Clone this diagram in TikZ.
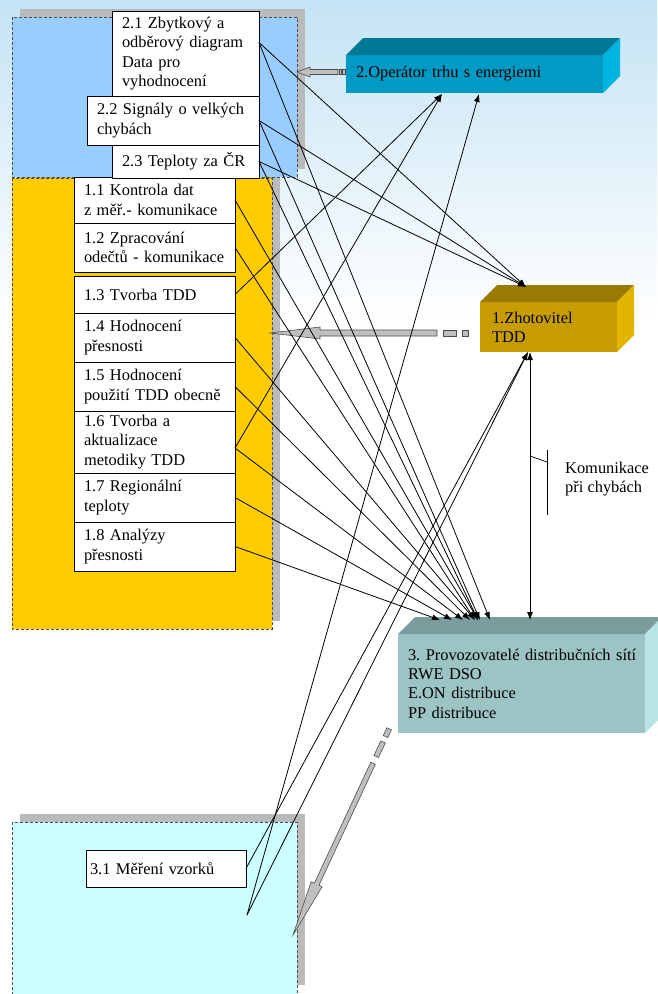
\documentclass[tikz,border=0pt]{standalone}
\usepackage{fontspec}
\setmainfont{Liberation Serif}
\usetikzlibrary{positioning,calc,arrows.meta}

\definecolor{skyblue}{HTML}{C4E3F4}
\definecolor{grpblue}{HTML}{99CCFF}
\definecolor{grpyellow}{HTML}{FFCC00}
\definecolor{grpcyan}{HTML}{CCFFFF}
\definecolor{otefront}{HTML}{009AC4}
\definecolor{otetop}{HTML}{007896}
\definecolor{oteside}{HTML}{00B4E0}
\definecolor{tddfront}{HTML}{C69C00}
\definecolor{tddtop}{HTML}{9A7A00}
\definecolor{tddside}{HTML}{E2B600}
\definecolor{dsofront}{HTML}{9CC4C4}
\definecolor{dsotop}{HTML}{7B9C9C}
\definecolor{dsoside}{HTML}{B8E4E4}

% top and side faces of a box node (depth 17)
\newcommand{\cubefaces}[3]{%
	\fill[#2] (#1.north west) -- ++(17,-17) -- ($(#1.north east)+(17,-17)$) -- (#1.north east) -- cycle;
	\fill[#3] (#1.north east) -- ++(17,-17) -- ($(#1.south east)+(17,-17)$) -- (#1.south east) -- cycle;}
% gray block arrow: from, to, head length, half body, half head
\newcommand{\grayarrow}[5]{%
	\coordinate (ga-base) at ($(#2)!#3!(#1)$);
	\filldraw[blockarrow] ($(#1)!#4!90:(#2)$) -- ($(ga-base)!#4!90:(#2)$) -- ($(ga-base)!#5!90:(#2)$)
		-- (#2) -- ($(ga-base)!#5!-90:(#2)$) -- ($(ga-base)!#4!-90:(#2)$) -- ($(#1)!#4!-90:(#2)$) -- cycle;}
% piece of the dashed tail
\newcommand{\graypiece}[3]{%
	\filldraw[blockarrow] ($(#1)!#3!90:(#2)$) -- ($(#2)!#3!-90:(#1)$) -- ($(#2)!#3!90:(#1)$) -- ($(#1)!#3!-90:(#2)$) -- cycle;}

\begin{document}
\begin{tikzpicture}[x=1pt, y=-1pt, font=\fontsize{16.4}{19.3}\selectfont\frenchspacing,
		task/.style={draw, fill=white, line width=0.8pt, align=left, inner xsep=10pt, inner ysep=0pt, outer sep=0pt},
		task1/.style={task, text width=141pt},
		cube/.style={anchor=north west, align=left, inner xsep=10pt, inner ysep=0pt, outer sep=0pt},
		group/.style={draw=black!70, line width=0.7pt, dash pattern=on 3pt off 2pt},
		shadow/.style={fill=black!27},
		link/.style={draw, line width=0.8pt, -{Latex[length=8pt,width=6pt]}},
		blockarrow/.style={fill=black!25, draw=black!70, line width=0.6pt}]
	\useasboundingbox (0,0) rectangle (657,994);
	% background
	\fill[white] (0,0) rectangle (657,994);
	\shade[top color=skyblue, bottom color=white] (0,0) rectangle (657,320);

	% group areas
	\fill[shadow] (20,170) rectangle (280,621);
	\fill[shadow] (20,9) rectangle (305,169);
	\fill[shadow] (20,814) rectangle (305,985);
	\filldraw[group, fill=grpyellow] (12,178) rectangle (272,629);
	\filldraw[group, fill=grpblue] (12,17) rectangle (297,177);
	\filldraw[group, fill=grpcyan] (12,822) rectangle (297,1000);

	% 1.x
	\node[task1, minimum height=46pt, anchor=north west] (t11) at (74,177) {1.1 Kontrola dat\\z měř.- komunikace};
	\node[task1, minimum height=49pt, below=0pt of t11] (t12) {1.2 Zpracování\\odečtů - komunikace};
	\node[task1, minimum height=37pt, below=4pt of t12] (t13) {1.3 Tvorba TDD};
	\node[task1, minimum height=49pt, below=0pt of t13] (t14) {1.4 Hodnocení\\přesnosti};
	\node[task1, minimum height=49pt, below=0pt of t14] (t15) {1.5 Hodnocení\\použití TDD obecně};
	\node[task1, minimum height=62pt, below=0pt of t15] (t16) {1.6 Tvorba a\\aktualizace\\metodiky TDD};
	\node[task1, minimum height=49pt, below=0pt of t16] (t17) {1.7 Regionální\\teploty};
	\node[task1, minimum height=49pt, below=0pt of t17] (t18) {1.8 Analýzy\\přesnosti};

	% 2.x
	\node[task, text width=127pt, minimum height=85pt, anchor=north west] (t21) at (112,11) {2.1 Zbytkový a\\odběrový diagram\\Data pro\\vyhodnocení};
	\node[task, text width=152pt, minimum height=49pt, below=0pt of t21.south east, anchor=north east] (t22) {2.2 Signály o velkých\\chybách};
	\node[task, text width=127pt, minimum height=33pt, below=0pt of t22.south east, anchor=north east] (t23) {2.3 Teploty za ČR};

	% 3.1
	\node[task, inner xsep=4pt, text width=152pt, minimum height=37pt, anchor=north west] (t31) at (86,850) {3.1 Měření vzorků};
	\coordinate (m31) at (247,915);

	% parties
	\node[cube, fill=otefront, text width=237pt, minimum height=38pt] (op) at (346,55) {2.Operátor trhu s energiemi};
	\cubefaces{op}{otetop}{oteside}
	\node[cube, fill=tddfront, inner xsep=12pt, text width=113pt, minimum height=50pt] (zh) at (480,302) {1.Zhotovitel\\TDD};
	\cubefaces{zh}{tddtop}{tddside}
	\node[cube, fill=dsofront, text width=227pt, minimum height=99pt] (pv) at (398,634) {\mbox{3. Provozovatelé distribučních sítí}\\RWE DSO\\E.ON distribuce\\PP distribuce\\[-6pt]};
	\cubefaces{pv}{dsotop}{dsoside}

	% gray arrows
	\coordinate (a-tail) at ([yshift=2pt]op.west);
	\coordinate (a-tip) at (297,72);
	\coordinate (a1) at ($(a-tail)!1pt!(a-tip)$);
	\coordinate (a2) at ($(a-tail)!3.5pt!(a-tip)$);
	\coordinate (a3) at ($(a-tail)!5pt!(a-tip)$);
	\coordinate (a4) at ($(a-tail)!7pt!(a-tip)$);
	\coordinate (a5) at ($(a-tail)!8pt!(a-tip)$);
	\graypiece{a1}{a2}{2.5pt}
	\graypiece{a3}{a4}{2.5pt}
	\grayarrow{a5}{a-tip}{13pt}{2.5pt}{5pt}

	\coordinate (b-tail) at ([yshift=-6pt]zh.west);
	\coordinate (b-tip) at (270,333);
	\coordinate (b1) at ($(b-tail)!12pt!(b-tip)$);
	\coordinate (b2) at ($(b-tail)!18pt!(b-tip)$);
	\coordinate (b3) at ($(b-tail)!24pt!(b-tip)$);
	\coordinate (b4) at ($(b-tail)!37pt!(b-tip)$);
	\coordinate (b5) at ($(b-tail)!43pt!(b-tip)$);
	\graypiece{b1}{b2}{3pt}
	\graypiece{b3}{b4}{3pt}
	\grayarrow{b5}{b-tip}{50pt}{3pt}{6pt}

	\coordinate (c-tail) at ($(pv.south west)+(-8,-6)$);
	\coordinate (c-tip) at (293,935);
	\coordinate (c1) at ($(c-tail)!2pt!(c-tip)$);
	\coordinate (c2) at ($(c-tail)!10.5pt!(c-tip)$);
	\coordinate (c3) at ($(c-tail)!16.5pt!(c-tip)$);
	\coordinate (c4) at ($(c-tail)!32.5pt!(c-tip)$);
	\coordinate (c5) at ($(c-tail)!40pt!(c-tip)$);
	\graypiece{c1}{c2}{2.5pt}
	\graypiece{c3}{c4}{2.5pt}
	\grayarrow{c5}{c-tip}{56pt}{2.5pt}{6pt}

	% arrow ends
	\coordinate (op-in1) at ([xshift=96pt, yshift=-1pt]op.south west);
	\coordinate (op-in2) at ([xshift=133pt, yshift=-1pt]op.south west);
	\coordinate (zh-top) at ([xshift=46pt, yshift=15pt]zh.north west);
	\coordinate (zh-bot) at ([xshift=48pt]zh.south west);
	\coordinate (zh-mid) at ([xshift=50pt]zh.south west);
	\coordinate (pv-v) at ([xshift=132pt, yshift=14pt]pv.north west);
	\foreach \name/\dx in {pv-a/42, pv-b/54, pv-c/65, pv-d/72, pv-e/77, pv-f/80, pv-g/82, pv-h/92}
		\coordinate (\name) at ([xshift=\dx pt, yshift=14pt]pv.north west);

	% links
	\foreach \src/\dst in {t18/pv-a, t17/pv-b, t15/pv-d, t14/pv-e, t12/pv-e, t11/pv-f, t23/pv-f, t22/pv-g}
		\draw[link] (\src.east) -- (\dst);
	\draw[link] ([yshift=-6pt]t16.east) -- (pv-c);
	\draw[link] ([yshift=11pt]t21.east) -- (pv-h);
	\draw[link] ([yshift=11pt]t21.east) -- (zh-top);
	\foreach \src in {t22, t23}
		\draw[link] (\src.east) -- (zh-top);
	\draw[link] (t13.east) -- (op-in1);
	\draw[link] ([yshift=-6pt]t16.east) -- (op-in1);
	\draw[link] (m31) -- (op-in2);
	\draw[link] (t31.east) -- (zh-bot);
	\draw[link] (m31) -- (zh-bot);
	\draw[link, {Latex[length=8pt,width=6pt]}-{Latex[length=8pt,width=6pt]}] (zh-mid) -- (pv-v);

	% callout
	\node[anchor=west, inner sep=0pt, align=left] (kom) at (565,479) {Komunikace\\při chybách};
	\coordinate (kom-foot) at (530,456);
	\coordinate (kom-bar) at (547,462);
	\draw[line width=0.7pt] ([shift={(-18,-29)}]kom.west) -- ([shift={(-18,36)}]kom.west);
	\draw[line width=0.7pt] (kom-foot) -- (kom-bar);
\end{tikzpicture}
\end{document}
